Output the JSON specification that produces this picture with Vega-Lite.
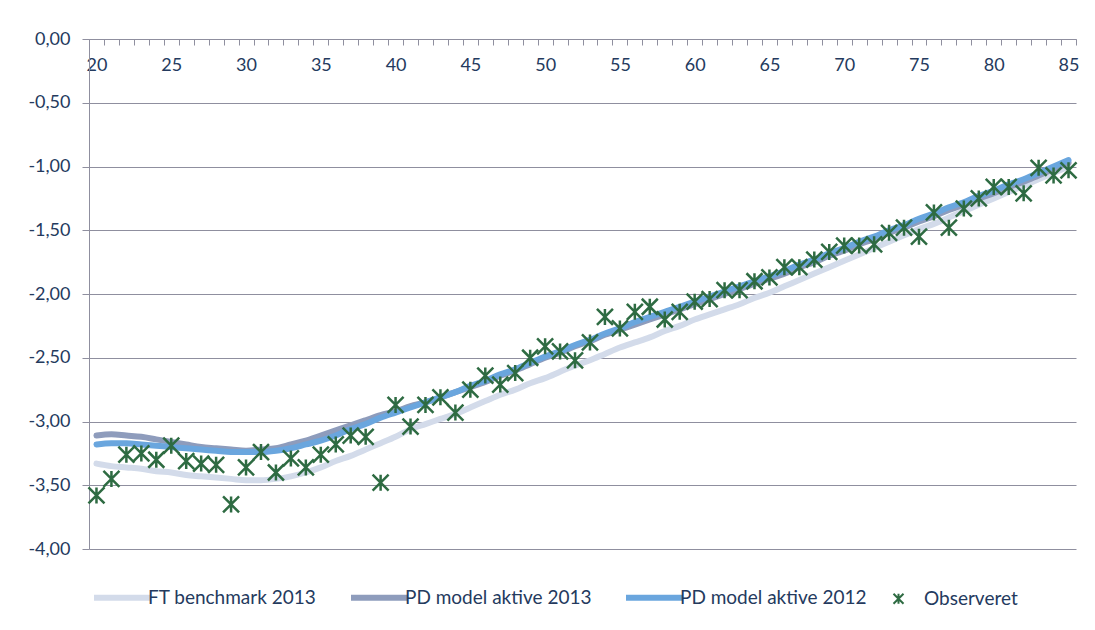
{
  "$schema": "https://vega.github.io/schema/vega-lite/v6.json",
  "width": 987,
  "height": 510,
  "autosize": {"type": "none"},
  "padding": {"left": 89, "top": 39, "right": 19, "bottom": 81},
  "background": "white",
  "config": {"view": {"stroke": null}, "font": "Lato"},
  "data": {"values": [
    {"age":20,"ft":-3.33,"pd13":-3.11,"pd12":-3.18,"obs":-3.58},
    {"age":21,"ft":-3.35,"pd13":-3.10,"pd12":-3.17,"obs":-3.45},
    {"age":22,"ft":-3.36,"pd13":-3.11,"pd12":-3.17,"obs":-3.26},
    {"age":23,"ft":-3.37,"pd13":-3.12,"pd12":-3.18,"obs":-3.25},
    {"age":24,"ft":-3.39,"pd13":-3.14,"pd12":-3.19,"obs":-3.30},
    {"age":25,"ft":-3.40,"pd13":-3.16,"pd12":-3.20,"obs":-3.19},
    {"age":26,"ft":-3.42,"pd13":-3.18,"pd12":-3.21,"obs":-3.31},
    {"age":27,"ft":-3.43,"pd13":-3.20,"pd12":-3.22,"obs":-3.33},
    {"age":28,"ft":-3.44,"pd13":-3.21,"pd12":-3.23,"obs":-3.34},
    {"age":29,"ft":-3.45,"pd13":-3.22,"pd12":-3.24,"obs":-3.65},
    {"age":30,"ft":-3.46,"pd13":-3.23,"pd12":-3.24,"obs":-3.36},
    {"age":31,"ft":-3.46,"pd13":-3.22,"pd12":-3.24,"obs":-3.24},
    {"age":32,"ft":-3.45,"pd13":-3.21,"pd12":-3.23,"obs":-3.40},
    {"age":33,"ft":-3.43,"pd13":-3.18,"pd12":-3.21,"obs":-3.29},
    {"age":34,"ft":-3.40,"pd13":-3.15,"pd12":-3.18,"obs":-3.36},
    {"age":35,"ft":-3.36,"pd13":-3.11,"pd12":-3.15,"obs":-3.26},
    {"age":36,"ft":-3.31,"pd13":-3.07,"pd12":-3.11,"obs":-3.18},
    {"age":37,"ft":-3.27,"pd13":-3.03,"pd12":-3.06,"obs":-3.11},
    {"age":38,"ft":-3.22,"pd13":-2.99,"pd12":-3.02,"obs":-3.12},
    {"age":39,"ft":-3.17,"pd13":-2.95,"pd12":-2.97,"obs":-3.48},
    {"age":40,"ft":-3.12,"pd13":-2.92,"pd12":-2.93,"obs":-2.87},
    {"age":41,"ft":-3.06,"pd13":-2.88,"pd12":-2.89,"obs":-3.04},
    {"age":42,"ft":-3.02,"pd13":-2.85,"pd12":-2.85,"obs":-2.87},
    {"age":43,"ft":-2.98,"pd13":-2.81,"pd12":-2.81,"obs":-2.81},
    {"age":44,"ft":-2.94,"pd13":-2.77,"pd12":-2.77,"obs":-2.93},
    {"age":45,"ft":-2.89,"pd13":-2.73,"pd12":-2.72,"obs":-2.75},
    {"age":46,"ft":-2.84,"pd13":-2.69,"pd12":-2.68,"obs":-2.64},
    {"age":47,"ft":-2.79,"pd13":-2.64,"pd12":-2.63,"obs":-2.71},
    {"age":48,"ft":-2.75,"pd13":-2.60,"pd12":-2.59,"obs":-2.62},
    {"age":49,"ft":-2.70,"pd13":-2.55,"pd12":-2.54,"obs":-2.50},
    {"age":50,"ft":-2.66,"pd13":-2.50,"pd12":-2.49,"obs":-2.41},
    {"age":51,"ft":-2.61,"pd13":-2.46,"pd12":-2.45,"obs":-2.45},
    {"age":52,"ft":-2.56,"pd13":-2.41,"pd12":-2.40,"obs":-2.52},
    {"age":53,"ft":-2.52,"pd13":-2.37,"pd12":-2.36,"obs":-2.38},
    {"age":54,"ft":-2.47,"pd13":-2.32,"pd12":-2.31,"obs":-2.18},
    {"age":55,"ft":-2.42,"pd13":-2.28,"pd12":-2.27,"obs":-2.27},
    {"age":56,"ft":-2.38,"pd13":-2.24,"pd12":-2.22,"obs":-2.14},
    {"age":57,"ft":-2.34,"pd13":-2.20,"pd12":-2.18,"obs":-2.10},
    {"age":58,"ft":-2.29,"pd13":-2.16,"pd12":-2.14,"obs":-2.20},
    {"age":59,"ft":-2.25,"pd13":-2.12,"pd12":-2.10,"obs":-2.14},
    {"age":60,"ft":-2.20,"pd13":-2.08,"pd12":-2.06,"obs":-2.06},
    {"age":61,"ft":-2.16,"pd13":-2.04,"pd12":-2.02,"obs":-2.04},
    {"age":62,"ft":-2.12,"pd13":-2.00,"pd12":-1.98,"obs":-1.97},
    {"age":63,"ft":-2.08,"pd13":-1.96,"pd12":-1.94,"obs":-1.97},
    {"age":64,"ft":-2.03,"pd13":-1.92,"pd12":-1.90,"obs":-1.90},
    {"age":65,"ft":-1.99,"pd13":-1.88,"pd12":-1.86,"obs":-1.87},
    {"age":66,"ft":-1.94,"pd13":-1.84,"pd12":-1.82,"obs":-1.79},
    {"age":67,"ft":-1.89,"pd13":-1.79,"pd12":-1.77,"obs":-1.79},
    {"age":68,"ft":-1.84,"pd13":-1.75,"pd12":-1.73,"obs":-1.73},
    {"age":69,"ft":-1.79,"pd13":-1.70,"pd12":-1.68,"obs":-1.67},
    {"age":70,"ft":-1.74,"pd13":-1.66,"pd12":-1.64,"obs":-1.62},
    {"age":71,"ft":-1.69,"pd13":-1.61,"pd12":-1.59,"obs":-1.62},
    {"age":72,"ft":-1.64,"pd13":-1.57,"pd12":-1.55,"obs":-1.61},
    {"age":73,"ft":-1.59,"pd13":-1.52,"pd12":-1.50,"obs":-1.52},
    {"age":74,"ft":-1.54,"pd13":-1.48,"pd12":-1.46,"obs":-1.48},
    {"age":75,"ft":-1.49,"pd13":-1.43,"pd12":-1.41,"obs":-1.55},
    {"age":76,"ft":-1.45,"pd13":-1.39,"pd12":-1.37,"obs":-1.36},
    {"age":77,"ft":-1.40,"pd13":-1.34,"pd12":-1.32,"obs":-1.48},
    {"age":78,"ft":-1.35,"pd13":-1.30,"pd12":-1.28,"obs":-1.33},
    {"age":79,"ft":-1.30,"pd13":-1.25,"pd12":-1.23,"obs":-1.25},
    {"age":80,"ft":-1.25,"pd13":-1.21,"pd12":-1.19,"obs":-1.16},
    {"age":81,"ft":-1.20,"pd13":-1.16,"pd12":-1.14,"obs":-1.16},
    {"age":82,"ft":-1.15,"pd13":-1.12,"pd12":-1.10,"obs":-1.21},
    {"age":83,"ft":-1.10,"pd13":-1.07,"pd12":-1.05,"obs":-1.01},
    {"age":84,"ft":-1.05,"pd13":-1.02,"pd12":-1.00,"obs":-1.07},
    {"age":85,"ft":-1.00,"pd13":-0.97,"pd12":-0.95,"obs":-1.03}
  ]},
  "encoding": {
    "x": {
      "field": "age", "type": "quantitative",
      "scale": {"domain": [19.5, 85.5], "nice": false, "zero": false},
      "axis": {
        "orient": "bottom", "offset": -510, "title": null, "grid": false,
        "values": [19.5,20.5,21.5,22.5,23.5,24.5,25.5,26.5,27.5,28.5,29.5,30.5,31.5,32.5,33.5,34.5,35.5,36.5,37.5,38.5,39.5,40.5,41.5,42.5,43.5,44.5,45.5,46.5,47.5,48.5,49.5,50.5,51.5,52.5,53.5,54.5,55.5,56.5,57.5,58.5,59.5,60.5,61.5,62.5,63.5,64.5,65.5,66.5,67.5,68.5,69.5,70.5,71.5,72.5,73.5,74.5,75.5,76.5,77.5,78.5,79.5,80.5,81.5,82.5,83.5,84.5,85.5],
        "labelExpr": "(datum.value + 0.5) % 5 == 0 ? format(datum.value + 0.5, 'd') : ''",
        "labelOffset": 7.5, "labelOverlap": false, "labelFlush": false,
        "tickSize": 6, "tickColor": "#8f8f9f", "domainColor": "#8f8f9f",
        "labelFontSize": 18, "labelColor": "#243a5e", "labelPadding": 11
      }
    }
  },
  "layer": [
    {
      "mark": {"type": "line", "strokeWidth": 6, "interpolate": "monotone", "strokeCap": "round"},
      "encoding": {
        "y": {
          "field": "ft", "type": "quantitative",
          "scale": {"domain": [-4, 0], "nice": false},
          "axis": {
            "title": null, "values": [0,-0.5,-1,-1.5,-2,-2.5,-3,-3.5,-4],
            "labelExpr": "replace(replace(format(datum.value, '.2f'), '.', ','), '\u2212', '-')",
            "grid": true, "gridColor": "#8f8f9f", "gridWidth": 1,
            "tickSize": 7, "tickColor": "#8f8f9f", "domainColor": "#8f8f9f",
            "labelFontSize": 18, "labelColor": "#243a5e", "labelPadding": 12
          }
        },
        "color": {"datum": "FT benchmark 2013", "type": "nominal",
          "scale": {"domain": ["FT benchmark 2013", "PD model aktive 2013", "PD model aktive 2012", "Observeret"],
                    "range": ["#d3dbea", "#8e9cbc", "#6aa6de", "#2e6b42"]},
          "legend": {
            "title": null, "orient": "none", "legendX": 24, "legendY": 549,
            "direction": "horizontal", "labelFontSize": 19, "labelColor": "#243a5e", "labelLimit": 400,
            "symbolSize": 3249, "symbolStrokeWidth": 6, "columnPadding": 22, "labelOffset": 16,
            "encode": {
              "symbols": {"update": {
                "shape": {"signal": "datum.value === 'Observeret' ? 'M-1,-1L1,1M-1,1L1,-1M0,-1L0,1' : 'stroke'"},
                "size": {"signal": "datum.value === 'Observeret' ? 100 : 3249"},
                "strokeWidth": {"signal": "datum.value === 'Observeret' ? 2 : 6"},
                "strokeCap": {"value": "butt"},
                "fill": {"value": "transparent"}
              }}
            }
          }
        }
      }
    },
    {
      "mark": {"type": "line", "strokeWidth": 6, "interpolate": "monotone", "strokeCap": "round"},
      "encoding": {
        "y": {"field": "pd13", "type": "quantitative"},
        "color": {"datum": "PD model aktive 2013", "type": "nominal"}
      }
    },
    {
      "mark": {"type": "line", "strokeWidth": 6, "interpolate": "monotone", "strokeCap": "round"},
      "encoding": {
        "y": {"field": "pd12", "type": "quantitative"},
        "color": {"datum": "PD model aktive 2012", "type": "nominal"}
      }
    },
    {
      "mark": {"type": "point", "shape": "M-1,-1L1,1M-1,1L1,-1M0,-1L0,1", "filled": false, "size": 256, "strokeWidth": 2.5, "opacity": 1},
      "encoding": {
        "y": {"field": "obs", "type": "quantitative"},
        "color": {"datum": "Observeret", "type": "nominal"}
      }
    }
  ]
}
